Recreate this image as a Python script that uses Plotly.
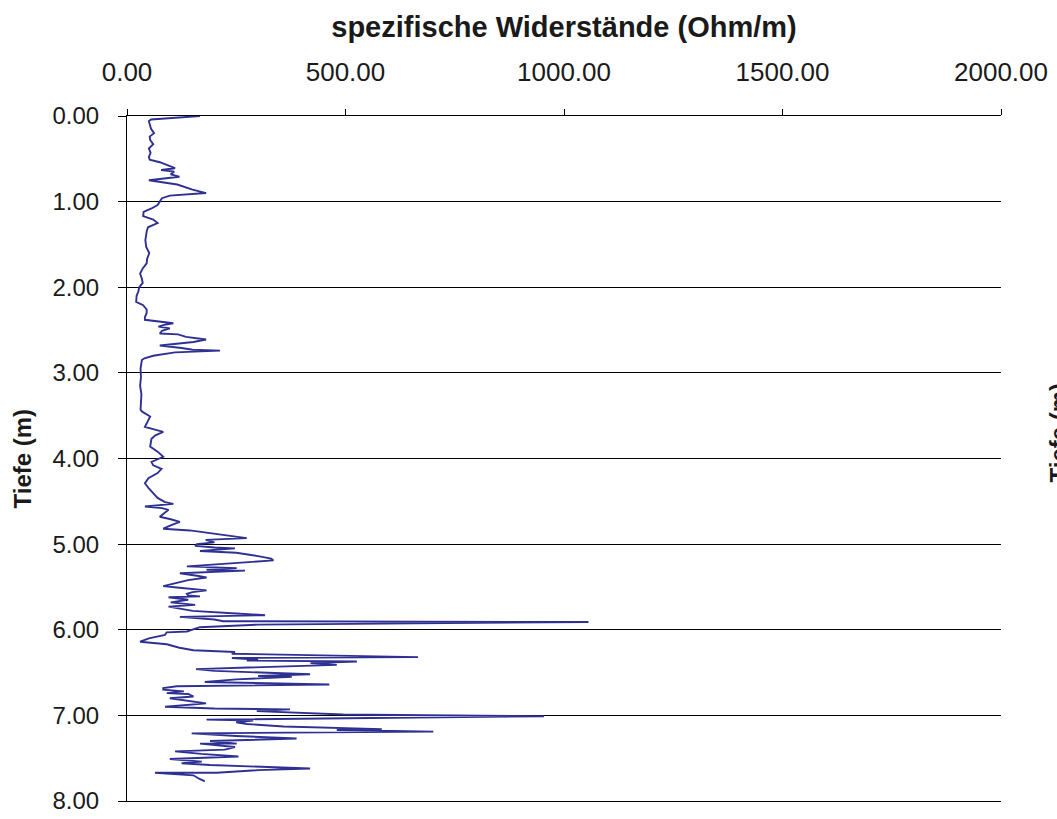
import plotly.graph_objects as go

depth_m = [
    0.00, 0.04, 0.06, 0.10, 0.15, 0.20, 0.24, 0.28, 0.33, 0.38, 0.43, 0.48, 0.51, 0.54, 0.57, 0.59,
    0.61, 0.63, 0.65, 0.68, 0.71, 0.75, 0.77, 0.80, 0.86, 0.90, 0.93, 0.96, 1.00, 1.04, 1.08, 1.12,
    1.17, 1.21, 1.25, 1.30, 1.35, 1.45, 1.53, 1.60, 1.67, 1.72, 1.78, 1.84, 1.90, 1.95, 2.00, 2.05,
    2.10, 2.15, 2.17, 2.21, 2.26, 2.30, 2.35, 2.38, 2.40, 2.42, 2.44, 2.46, 2.48, 2.51, 2.54, 2.55,
    2.58, 2.61, 2.64, 2.66, 2.68, 2.71, 2.73, 2.74, 2.76, 2.80, 2.83, 2.85, 2.95, 3.05, 3.15, 3.25,
    3.35, 3.43, 3.45, 3.51, 3.56, 3.63, 3.69, 3.73, 3.77, 3.82, 3.86, 3.92, 3.98, 4.04, 4.08, 4.12,
    4.17, 4.23, 4.29, 4.35, 4.41, 4.46, 4.51, 4.53, 4.56, 4.58, 4.60, 4.64, 4.68, 4.71, 4.74, 4.78,
    4.82, 4.84, 4.87, 4.90, 4.93, 4.95, 4.98, 5.00, 5.02, 5.04, 5.05, 5.08, 5.10, 5.14, 5.17, 5.19,
    5.22, 5.26, 5.28, 5.30, 5.31, 5.34, 5.37, 5.39, 5.42, 5.46, 5.49, 5.51, 5.54, 5.56, 5.58, 5.60,
    5.61, 5.62, 5.65, 5.68, 5.71, 5.73, 5.75, 5.78, 5.81, 5.83, 5.85, 5.88, 5.90, 5.91, 5.94, 5.97,
    6.02, 6.03, 6.06, 6.10, 6.14, 6.17, 6.21, 6.24, 6.26, 6.28, 6.32, 6.33, 6.35, 6.36, 6.37, 6.39,
    6.41, 6.46, 6.48, 6.50, 6.52, 6.54, 6.55, 6.58, 6.61, 6.64, 6.66, 6.68, 6.70, 6.72, 6.74, 6.75,
    6.78, 6.80, 6.83, 6.86, 6.90, 6.92, 6.93, 6.95, 6.99, 7.01, 7.05, 7.06, 7.08, 7.10, 7.13, 7.16,
    7.17, 7.19, 7.21, 7.24, 7.27, 7.30, 7.33, 7.33, 7.37, 7.40, 7.42, 7.45, 7.48, 7.51, 7.54, 7.56,
    7.58, 7.60, 7.62, 7.64, 7.67, 7.67, 7.70, 7.74, 7.77,
]

resist_ohm = [
    167, 55, 50, 52, 55, 62, 52, 53, 60, 50, 54, 50, 52, 75, 90, 102,
    110, 78, 108, 100, 120, 50, 75, 115, 150, 181, 98, 80, 75, 70, 56, 38,
    37, 60, 70, 48, 45, 42, 44, 51, 46, 45, 36, 30, 34, 36, 28, 26,
    22, 21, 21, 37, 45, 45, 41, 41, 68, 106, 85, 72, 98, 80, 75, 117,
    135, 181, 152, 110, 75, 125, 150, 213, 110, 60, 40, 34, 31, 32, 30, 33,
    31, 31, 34, 53, 48, 41, 83, 65, 56, 55, 53, 70, 83, 56, 60, 79,
    70, 49, 41, 50, 60, 70, 87, 106, 41, 80, 95, 85, 75, 100, 121, 100,
    83, 144, 190, 230, 274, 180, 200, 160, 156, 200, 247, 167, 250, 300, 330, 335,
    240, 137, 251, 182, 270, 121, 160, 182, 140, 110, 83, 120, 182, 150, 137, 140,
    167, 95, 140, 100, 156, 95, 121, 150, 250, 316, 121, 200, 220, 1056, 300, 167,
    137, 91, 87, 50, 30, 91, 120, 152, 247, 240, 666, 240, 300, 274, 526, 420,
    480, 158, 200, 300, 419, 300, 377, 250, 178, 463, 114, 83, 83, 130, 91, 140,
    152, 98, 140, 181, 87, 200, 373, 297, 495, 954, 182, 289, 250, 274, 358, 583,
    480, 701, 148, 250, 388, 190, 251, 167, 247, 224, 110, 170, 255, 98, 171, 125,
    190, 300, 419, 300, 205, 64, 152, 165, 178,
]

x_ticks = [0, 500, 1000, 1500, 2000]
x_tick_labels = ["0.00", "500.00", "1000.00", "1500.00", "2000.00"]
y_ticks = [0, 1, 2, 3, 4, 5, 6, 7, 8]
y_tick_labels = ["0.00", "1.00", "2.00", "3.00", "4.00", "5.00", "6.00", "7.00", "8.00"]

FONT = "Liberation Sans, Arial, sans-serif"
BLACK = "#000000"
TXT = "#1a1a1a"

# Full-window figure (body margin removed in post_script); plot area at x 127..1001, y 116..801
W, H = 1057, 819
L, T = 127, 116
R = W - 1001
B = H - 801
plot_w = W - L - R
plot_h = H - T - B

fig = go.Figure()
fig.add_trace(go.Scatter(
    x=resist_ohm, y=depth_m, mode="lines",
    line=dict(color="#2E3192", width=1.9),
    showlegend=False, hoverinfo="x+y",
))

fig.update_layout(
    template="none",
    width=W, height=H,
    margin=dict(l=L, r=R, t=T, b=B, autoexpand=False),
    paper_bgcolor="white", plot_bgcolor="white",
    font=dict(family=FONT, size=20, color=BLACK),
    title=dict(text="<b>spezifische Widerstände (Ohm/m)</b>", x=0.5, xref="paper",
               xanchor="center", y=1 - 27 / H, yanchor="middle",
               font=dict(family=FONT, size=29, color=TXT)),
    xaxis=dict(
        side="top", range=[0, 2000], tickvals=x_ticks, ticktext=x_tick_labels,
        showgrid=False, zeroline=False, showline=True, mirror=True,
        linecolor=BLACK, linewidth=1, automargin=False,
        ticks="outside", ticklen=6, tickcolor=BLACK, ticklabelstandoff=18,
        tickfont=dict(family=FONT, size=26, color=TXT),
    ),
    yaxis=dict(
        range=[8, 0], tickvals=y_ticks, ticktext=y_tick_labels,
        showgrid=True, gridcolor=BLACK, gridwidth=1, zeroline=False,
        showline=True, linecolor=BLACK, linewidth=1, automargin=False,
        ticks="outside", ticklen=8, tickcolor=BLACK, ticklabelstandoff=14,
        tickfont=dict(family=FONT, size=24, color=TXT),
    ),
)

# left axis title
fig.add_annotation(
    text="<b>Tiefe (m)</b>", textangle=-90, showarrow=False,
    xref="paper", yref="paper", x=(22 - L) / plot_w, y=0.5,
    xanchor="center", yanchor="middle",
    font=dict(family=FONT, size=24, color=TXT),
)

# cut-off axis title of a neighbouring chart at the right edge
fig.add_annotation(
    text="<b>Tiefe (m)</b>", textangle=-90, showarrow=False,
    xref="paper", yref="paper", x=(1042 - L) / plot_w,
    y=(801 - 433) / plot_h,
    xanchor="left", yanchor="middle",
    font=dict(family=FONT, size=24, color=TXT),
)

fig.write_html(
    "out.html",
    config={"displayModeBar": False},
    post_script="document.body.style.margin='0';document.body.style.overflow='hidden';",
)
